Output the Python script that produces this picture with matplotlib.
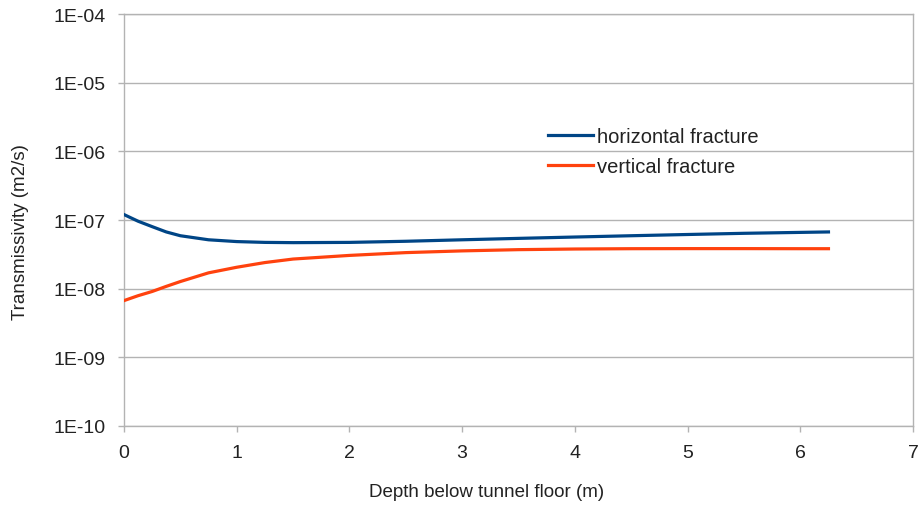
import numpy as np
import matplotlib.pyplot as plt

plt.rcParams['font.family'] = ['Liberation Sans', 'DejaVu Sans']

# Depth below tunnel floor (m)
depth = [0, 0.125, 0.25, 0.375, 0.5, 0.75, 1, 1.25, 1.5, 2, 2.5, 3, 3.5,
         4, 4.5, 5, 5.5, 6, 6.25]

# Transmissivity (m2/s)
horizontal = [1.2e-7, 9.6e-8, 8.0e-8, 6.7e-8, 5.9e-8, 5.15e-8, 4.85e-8, 4.72e-8,
              4.68e-8, 4.72e-8, 4.9e-8, 5.15e-8, 5.4e-8, 5.65e-8, 5.9e-8,
              6.15e-8, 6.4e-8, 6.6e-8, 6.7e-8]
vertical = [6.7e-9, 7.9e-9, 9.1e-9, 1.08e-8, 1.27e-8, 1.7e-8, 2.05e-8, 2.4e-8,
            2.7e-8, 3.05e-8, 3.35e-8, 3.55e-8, 3.7e-8, 3.78e-8, 3.82e-8,
            3.83e-8, 3.83e-8, 3.82e-8, 3.82e-8]

ytick_vals = [1e-10, 1e-9, 1e-8, 1e-7, 1e-6, 1e-5, 1e-4]
ytick_labels = ['1E-10', '1E-09', '1E-08', '1E-07', '1E-06', '1E-05', '1E-04']
xtick_vals = [0, 1, 2, 3, 4, 5, 6, 7]

fig = plt.figure(figsize=(9.19, 5.06), dpi=100)
ax = fig.add_axes([124/919, 1 - 427/506, (913-124)/919, (427-15)/506])

grid_col = '#b3b3b3'
ax.plot(depth, horizontal, color='#004586', lw=2.3, label='horizontal fracture', zorder=3)
ax.plot(depth, vertical, color='#ff420e', lw=2.3, label='vertical fracture', zorder=3)

ax.set_yscale('log')
ax.set_ylim(1e-10, 1e-4)
ax.set_xlim(0, 7)
ax.set_yticks(ytick_vals)
ax.set_yticklabels(ytick_labels)
ax.minorticks_off()
ax.set_xticks(xtick_vals)
ax.grid(axis='y', color=grid_col, lw=1)

for s in ax.spines.values():
    s.set_color(grid_col)
    s.set_linewidth(1)

ax.tick_params(axis='both', colors=grid_col, labelcolor='#222222', labelsize=14,
               length=4, width=1)
ax.tick_params(axis='x', pad=9)
ax.tick_params(axis='y', pad=9)

ax.set_xlabel('Depth below tunnel floor (m)', fontsize=13.5, color='#222222')
ax.set_ylabel('Transmissivity (m2/s)', fontsize=13.5, color='#222222')
ax.xaxis.set_label_coords(0.46, -0.138)
ax.yaxis.set_label_coords(-0.12, 0.473)

ax.legend(loc='center left', bbox_to_anchor=(0.515, 0.667), frameon=False,
          fontsize=14.5, handlelength=2.2, handletextpad=0.2, labelspacing=0.55,
          labelcolor='#222222')

plt.savefig('out.png', dpi=100)
